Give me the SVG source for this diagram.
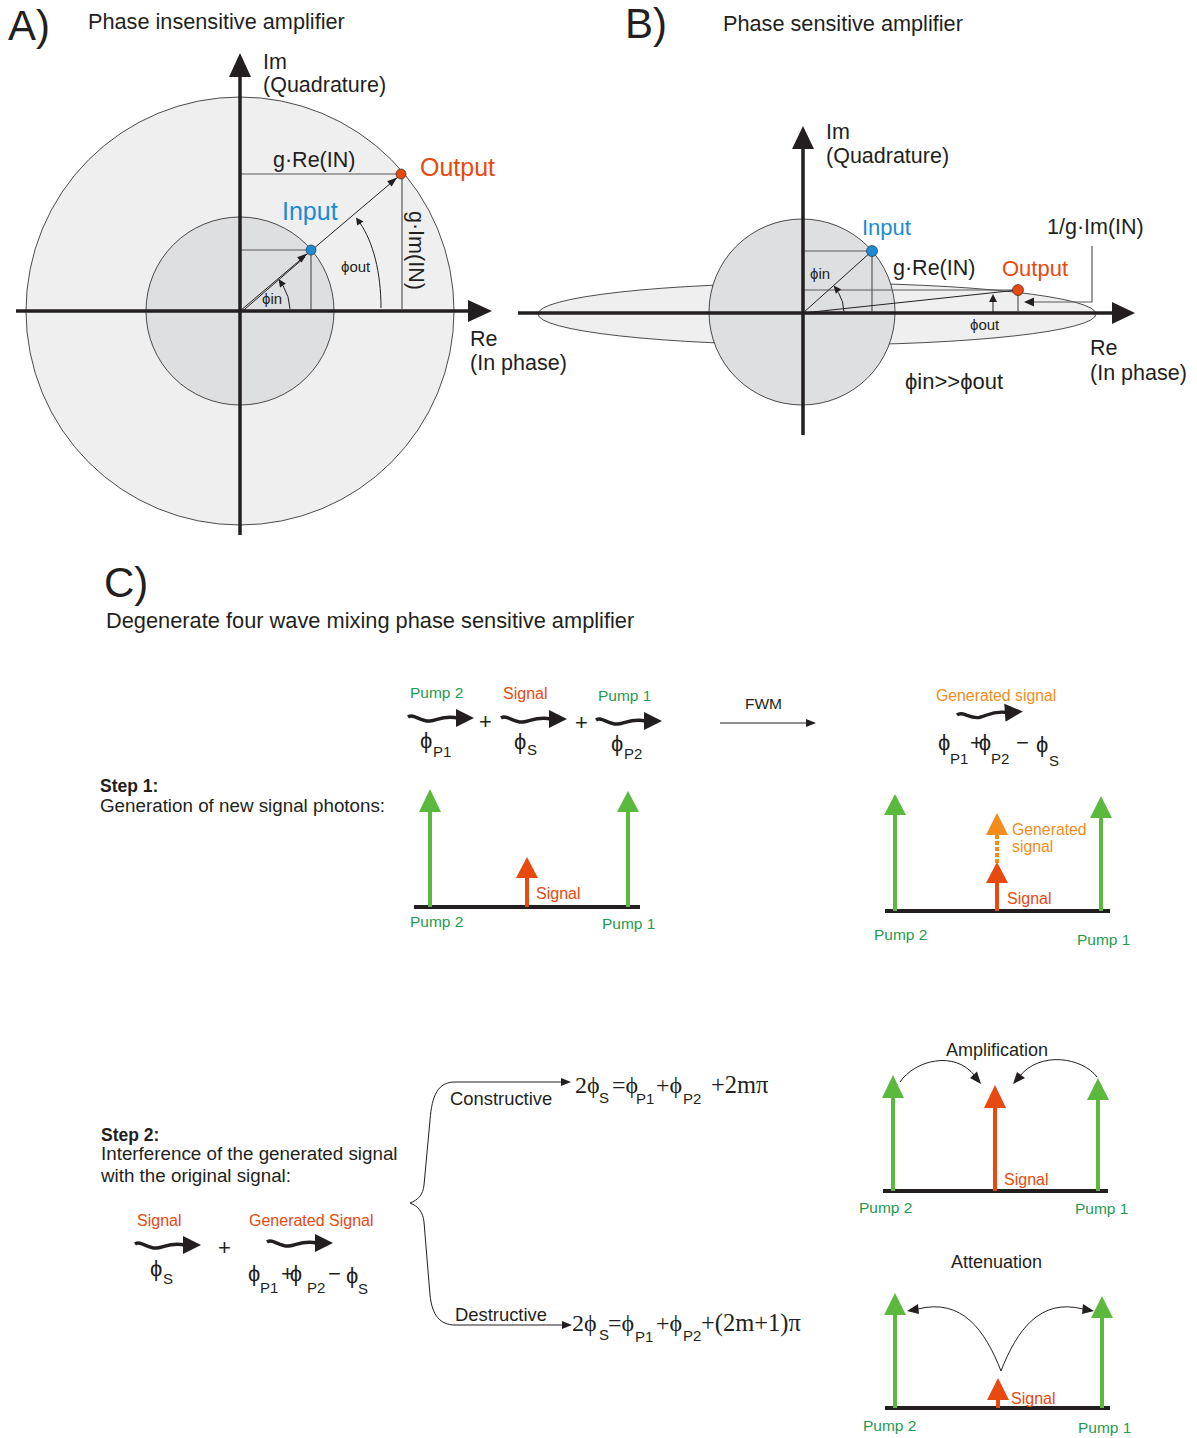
<svg xmlns="http://www.w3.org/2000/svg" xmlns:xlink="http://www.w3.org/1999/xlink" width="1197" height="1438" viewBox="0 0 1197 1438">
<style>
text{font-family:"Liberation Sans","DejaVu Sans",sans-serif;fill:#231f20}
.ser{font-family:"Liberation Serif","DejaVu Serif",serif}
.gr{fill:#1f9b50}
.rd{fill:#e8490f}
.or{fill:#f28c1c}
.bl{fill:#1b8bd4}
.ax{stroke:#231f20;stroke-width:3.5;fill:none}
.thin{stroke:#231f20;stroke-width:1;fill:none}
.gry{stroke:#58595b;stroke-width:1.2;fill:none}
.dk{fill:#231f20}
.base{stroke:#231f20;stroke-width:4}
.gl{stroke:#5bb93d;stroke-width:4}
.gh{fill:#5bb93d}
.rl{stroke:#e8490f;stroke-width:4}
.rh{fill:#e8490f}
.ol{stroke:#f28c1c;stroke-width:4;stroke-dasharray:4 2}
.oh{fill:#f28c1c}
</style>
<defs>
<g id="wv">
<path d="M0,-1 C6,-5 12,4 22,3 C30,2 36,-3 50,0" fill="none" stroke="#231f20" stroke-width="3.4"/>
<polygon points="48,-9 66,0 48,9" fill="#231f20"/>
</g>
</defs>
<rect width="1197" height="1438" fill="#ffffff"/>

<!-- Panel A -->
<g id="panelA">
<text x="8" y="40" font-size="42">A)</text>
<text x="88" y="29" font-size="21.7">Phase insensitive amplifier</text>
<circle cx="240" cy="311" r="214" fill="#efeff0" stroke="#231f20" stroke-width="0.8"/>
<circle cx="240" cy="311" r="94" fill="#dedfe1" stroke="#231f20" stroke-width="0.8"/>
<line class="gry" x1="240" y1="250" x2="311" y2="250"/>
<line class="gry" x1="311" y1="250" x2="311" y2="311"/>
<line class="gry" x1="240" y1="174" x2="401" y2="174"/>
<line class="gry" x1="402" y1="174" x2="402" y2="309"/>
<line class="ax" x1="16" y1="311" x2="470" y2="311"/>
<polygon class="dk" points="468,300 492,311 468,322"/>
<line class="ax" x1="240" y1="535" x2="240" y2="75"/>
<polygon class="dk" points="229,77 240,53 251,77"/>
<line class="thin" x1="240" y1="311" x2="398" y2="177"/>
<line class="thin" x1="241.5" y1="312" x2="305" y2="257"/>
<polygon class="dk" points="307,253.5 301.6,262.6 297.1,257.3"/>
<polygon class="dk" points="397,177.5 391.7,186.6 387.1,181.3"/>
<path class="thin" d="M290,309 A50,50 0 0 0 283,285.5"/>
<polygon class="dk" points="278.5,279 285.8,283.4 280,287.4"/>
<path class="thin" d="M381,308 C381,272 373,242 360,223"/>
<polygon class="dk" points="356,217.5 363.5,221.5 357.2,225.5"/>
<text x="262" y="304" font-size="15">ϕin</text>
<text x="341" y="272" font-size="15">ϕout</text>
<circle cx="311" cy="250" r="5" fill="#1b8bd4" stroke="#231f20" stroke-width="0.6"/>
<circle cx="401" cy="174" r="5" fill="#e8490f" stroke="#231f20" stroke-width="0.6"/>
<text class="bl" x="282" y="220" font-size="25">Input</text>
<text class="rd" x="420" y="176" font-size="25">Output</text>
<text x="273" y="167" font-size="21.5">g·Re(IN)</text>
<text transform="translate(409,211) rotate(90)" font-size="21.5">g·Im(IN)</text>
<text x="263" y="69" font-size="21.5">Im</text>
<text x="263" y="92" font-size="21.5">(Quadrature)</text>
<text x="470" y="346" font-size="21.5">Re</text>
<text x="470" y="370" font-size="21.5">(In phase)</text>
</g>

<!-- Panel B -->
<g id="panelB">
<text x="625" y="38" font-size="42">B)</text>
<text x="723" y="31" font-size="21.7">Phase sensitive amplifier</text>
<ellipse cx="817" cy="314" rx="279" ry="31" fill="#efeff0" stroke="#231f20" stroke-width="0.8"/>
<circle cx="802" cy="312" r="93" fill="#dedfe1" stroke="#231f20" stroke-width="0.8"/>
<line class="gry" x1="803" y1="251" x2="872" y2="251"/>
<line class="gry" x1="872" y1="251" x2="872" y2="313"/>
<line class="gry" x1="803" y1="290" x2="1018" y2="290"/>
<line class="gry" x1="1018" y1="290" x2="1018" y2="311"/>
<line class="ax" x1="518" y1="313" x2="1115" y2="313"/>
<polygon class="dk" points="1112,302 1135,313 1112,324"/>
<line class="ax" x1="803" y1="435" x2="803" y2="146"/>
<polygon class="dk" points="792,149 803,126 814,149"/>
<line class="thin" x1="803" y1="313" x2="872" y2="251"/>
<line class="thin" x1="803" y1="313" x2="1018" y2="290"/>
<path class="thin" d="M844,312 A41,41 0 0 0 838.5,292.5"/>
<polygon class="dk" points="833.5,285.5 841.1,289.2 835.9,293.8"/>
<line class="thin" x1="993" y1="312" x2="993" y2="301"/>
<polygon class="dk" points="989,302 993,294 997,302"/>
<polyline class="gry" points="1092,246 1092,302 1032,302"/>
<polygon class="dk" points="1034,297.5 1024,302 1034,306.5"/>
<circle cx="872" cy="251" r="5.5" fill="#1b8bd4" stroke="#231f20" stroke-width="0.6"/>
<circle cx="1018" cy="290" r="5.5" fill="#e8490f" stroke="#231f20" stroke-width="0.6"/>
<text class="bl" x="862" y="235" font-size="22">Input</text>
<text class="rd" x="1002" y="276" font-size="22">Output</text>
<text x="893" y="275" font-size="21.5">g·Re(IN)</text>
<text x="1047" y="234" font-size="21.5">1/g·Im(IN)</text>
<text x="810" y="279" font-size="15">ϕin</text>
<text x="970" y="330" font-size="15">ϕout</text>
<text x="905" y="389" font-size="22">ϕin&gt;&gt;ϕout</text>
<text x="826" y="139" font-size="21.5">Im</text>
<text x="826" y="163" font-size="21.5">(Quadrature)</text>
<text x="1090" y="355" font-size="21.5">Re</text>
<text x="1090" y="380" font-size="21.5">(In phase)</text>
</g>

<!-- Panel C title -->
<g id="panelC-title">
<text x="104" y="597" font-size="42">C)</text>
<text x="106" y="628" font-size="21.8">Degenerate four wave mixing phase sensitive amplifier</text>
</g>

<!-- Step 1 equation -->
<g id="step1-waves">
<text class="gr" x="410" y="698" font-size="15.5">Pump 2</text>
<use xlink:href="#wv" href="#wv" x="408" y="718"/>
<text x="479" y="729" font-size="22">+</text>
<text class="rd" x="503" y="699" font-size="16">Signal</text>
<use xlink:href="#wv" href="#wv" x="501" y="719"/>
<text x="575" y="730" font-size="22">+</text>
<text class="gr" x="598" y="701" font-size="15.5">Pump 1</text>
<use xlink:href="#wv" href="#wv" x="596" y="721"/>
<text x="420" y="748" font-size="22">ϕ</text><text x="433" y="757" font-size="15">P1</text>
<text x="514" y="749" font-size="22">ϕ</text><text x="527" y="755" font-size="15">S</text>
<text x="611" y="751" font-size="22">ϕ</text><text x="624" y="759" font-size="15">P2</text>
</g>
<g id="fwm">
<text x="745" y="709" font-size="15.5">FWM</text>
<line class="thin" x1="720" y1="723" x2="808" y2="723" stroke="#231f20"/>
<polygon class="dk" points="806,719 816,723 806,727"/>
</g>
<g id="generated-wave">
<text class="or" x="936" y="701" font-size="15.8">Generated signal</text>
<use xlink:href="#wv" href="#wv" transform="translate(957,716) rotate(-4)"/>
<text x="938" y="750" font-size="22">ϕ</text><text x="950" y="764" font-size="15">P1</text>
<text x="970" y="750" font-size="22" letter-spacing="-4">+ϕ</text><text x="991" y="764" font-size="15">P2</text>
<text x="1016" y="750" font-size="22">−</text><text x="1036" y="752" font-size="22">ϕ</text><text x="1049" y="766" font-size="15">S</text>
</g>
<g id="step1-text">
<text x="100" y="792" font-size="17.5" font-weight="bold">Step 1:</text>
<text x="100" y="812" font-size="18.8">Generation of new signal photons:</text>
</g>

<!-- Step 1 left spectrum -->
<g id="spectrum1">
<line class="base" x1="414" y1="907" x2="640" y2="907"/>
<line class="gl" x1="430" y1="907" x2="430" y2="810"/>
<polygon class="gh" points="419,812 430,789 441,812"/>
<line class="gl" x1="628" y1="907" x2="628" y2="810"/>
<polygon class="gh" points="617,812 628,791 639,812"/>
<line class="rl" x1="527" y1="907" x2="527" y2="876"/>
<polygon class="rh" points="516,878 527,857 538,878"/>
<text class="rd" x="536" y="899" font-size="16">Signal</text>
<text class="gr" x="410" y="927" font-size="15.5">Pump 2</text>
<text class="gr" x="602" y="929" font-size="15.5">Pump 1</text>
</g>

<!-- Step 1 right spectrum -->
<g id="spectrum2">
<line class="base" x1="885" y1="911" x2="1110" y2="911"/>
<line class="gl" x1="895" y1="911" x2="895" y2="812"/>
<polygon class="gh" points="884,815 895,794 906,815"/>
<line class="gl" x1="1101" y1="911" x2="1101" y2="815"/>
<polygon class="gh" points="1090,818 1101,796 1112,818"/>
<line class="ol" x1="997" y1="835" x2="997" y2="863"/>
<polygon class="oh" points="986,835 997,813 1008,835"/>
<line class="rl" x1="997" y1="911" x2="997" y2="880"/>
<polygon class="rh" points="986,883 997,862 1008,883"/>
<text class="or" x="1012" y="835" font-size="15.8">Generated</text>
<text class="or" x="1012" y="852" font-size="15.8">signal</text>
<text class="rd" x="1007" y="904" font-size="16">Signal</text>
<text class="gr" x="874" y="940" font-size="15.5">Pump 2</text>
<text class="gr" x="1077" y="945" font-size="15.5">Pump 1</text>
</g>

<!-- Step 2 -->
<g id="step2-text">
<text x="101" y="1141" font-size="17.5" font-weight="bold">Step 2:</text>
<text x="101" y="1160" font-size="18.8">Interference of the generated signal</text>
<text x="101" y="1182" font-size="18.8">with the original signal:</text>
</g>
<g id="step2-waves">
<text class="rd" x="137" y="1226" font-size="16">Signal</text>
<use xlink:href="#wv" href="#wv" x="135" y="1245"/>
<text x="218" y="1255" font-size="22">+</text>
<text x="150" y="1276" font-size="22">ϕ</text><text x="163" y="1284" font-size="15">S</text>
<text class="rd" x="249" y="1226" font-size="16">Generated Signal</text>
<use xlink:href="#wv" href="#wv" x="267" y="1243"/>
<text x="248" y="1281" font-size="22">ϕ</text><text x="260" y="1293" font-size="15">P1</text>
<text x="281" y="1281" font-size="22" letter-spacing="-4">+ϕ</text><text x="307" y="1293" font-size="15">P2</text>
<text x="328" y="1281" font-size="22">−</text><text x="346" y="1283" font-size="22">ϕ</text><text x="358" y="1294" font-size="15">S</text>
</g>

<g id="connectors">
<path class="thin" d="M562,1082 L455,1082 C438,1082 432,1095 430,1120 L424,1185 C423,1195 418,1200 410,1203 C418,1206 423,1212 424,1222 L430,1295 C432,1315 440,1325 455,1325 L563,1325"/>
<polygon class="dk" points="561,1078 571,1082 561,1086"/>
<polygon class="dk" points="562,1321 572,1325 562,1329"/>
<path class="thin" d="M900,1082 C915,1060 955,1050 975,1076"/>
<polygon class="dk" points="981,1084 970,1078 977,1071.5"/>
<path class="thin" d="M1097,1077 C1083,1058 1040,1050 1019,1077"/>
<polygon class="dk" points="1013,1084 1017,1072 1025,1078"/>
<path class="thin" d="M1001,1371 C985,1330 962,1298 918,1309"/>
<polygon class="dk" points="907,1311 918,1304 919,1314"/>
<path class="thin" d="M1001,1371 C1017,1330 1040,1298 1083,1309"/>
<polygon class="dk" points="1094,1311 1082,1314 1083,1304"/>
</g>

<g id="formulas">
<text x="450" y="1105" font-size="18.4">Constructive</text>
<text class="ser" x="575" y="1093" font-size="24">2ϕ</text><text x="599" y="1103" font-size="15">S</text>
<text class="ser" x="612" y="1093" font-size="24">=ϕ</text><text x="636" y="1104" font-size="15">P1</text>
<text class="ser" x="656" y="1093" font-size="24">+ϕ</text><text x="683" y="1104" font-size="15">P2</text>
<text class="ser" x="711" y="1093" font-size="24.5">+2mπ</text>
<text x="455" y="1321" font-size="18.4">Destructive</text>
<text class="ser" x="572" y="1331" font-size="24">2ϕ</text><text x="599" y="1340" font-size="15">S</text>
<text class="ser" x="608" y="1331" font-size="24">=ϕ</text><text x="635" y="1342" font-size="15">P1</text>
<text class="ser" x="656" y="1331" font-size="24">+ϕ</text><text x="683" y="1341" font-size="15">P2</text>
<text class="ser" x="701" y="1331" font-size="24.5">+(2m+1)π</text>
</g>

<!-- Amplification -->
<g id="amplification">
<text x="946" y="1056" font-size="18">Amplification</text>
<line class="base" x1="883" y1="1191" x2="1108" y2="1191"/>
<line class="gl" x1="893" y1="1191" x2="893" y2="1095"/>
<polygon class="gh" points="882,1098 893,1075 904,1098"/>
<line class="gl" x1="1098" y1="1191" x2="1098" y2="1097"/>
<polygon class="gh" points="1087,1100 1098,1078 1109,1100"/>
<line class="rl" x1="995" y1="1191" x2="995" y2="1105" stroke-width="5.5"/>
<polygon class="rh" points="984,1108 995,1085 1006,1108"/>
<text class="rd" x="1004" y="1185" font-size="16">Signal</text>
<text class="gr" x="859" y="1213" font-size="15.5">Pump 2</text>
<text class="gr" x="1075" y="1214" font-size="15.5">Pump 1</text>
</g>

<!-- Attenuation -->
<g id="attenuation">
<text x="951" y="1268" font-size="18">Attenuation</text>
<line class="base" x1="885" y1="1408" x2="1110" y2="1408"/>
<line class="gl" x1="895" y1="1408" x2="895" y2="1312"/>
<polygon class="gh" points="884,1315 895,1293 906,1315"/>
<line class="gl" x1="1102" y1="1408" x2="1102" y2="1315"/>
<polygon class="gh" points="1091,1318 1102,1296 1113,1318"/>
<line class="rl" x1="998" y1="1408" x2="998" y2="1398"/>
<polygon class="rh" points="987,1400 998,1378 1009,1400"/>
<text class="rd" x="1011" y="1404" font-size="16">Signal</text>
<text class="gr" x="863" y="1431" font-size="15.5">Pump 2</text>
<text class="gr" x="1078" y="1433" font-size="15.5">Pump 1</text>
</g>
</svg>
